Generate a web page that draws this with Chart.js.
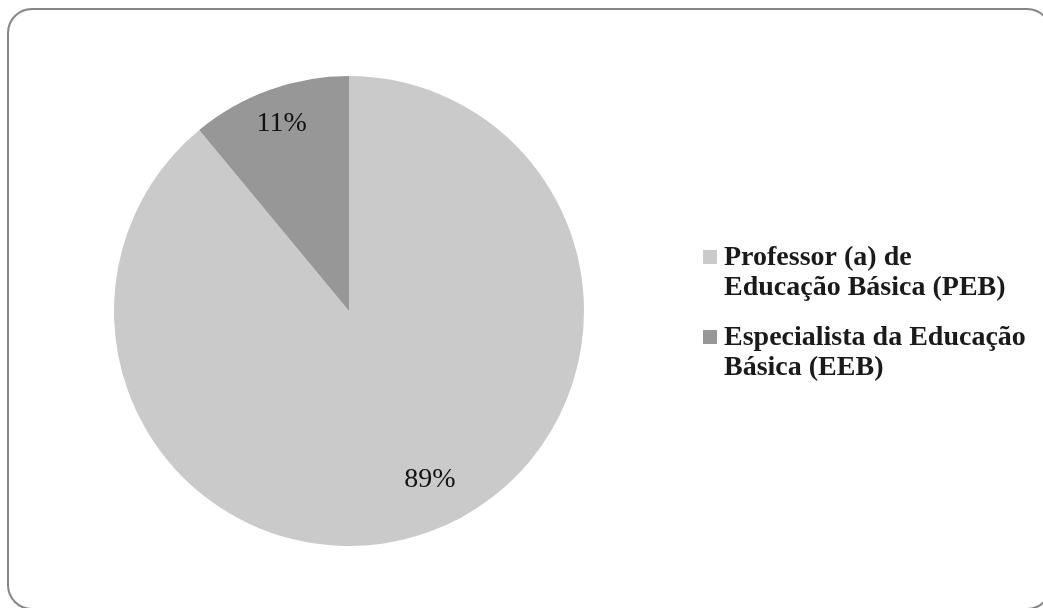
<!DOCTYPE html>
<html lang="pt">
<head>
<meta charset="utf-8">
<title>Cargo dos participantes</title>
<script src="https://cdn.jsdelivr.net/npm/chart.js@4.4.1/dist/chart.umd.min.js"></script>
<style>
  html, body { margin: 0; padding: 0; background: #ffffff; overflow: hidden; }
  #wrap { position: relative; width: 1043px; height: 608px; }
  #frame {
    position: absolute; left: 7px; top: 8px; width: 1045px; height: 602px;
    box-sizing: border-box; border: 2px solid #858585; border-radius: 25px;
    pointer-events: none;
  }
  canvas { position: absolute; left: 0; top: 0; }
</style>
</head>
<body>
<div id="wrap">
  <canvas id="chart" width="1043" height="608"></canvas>
  <div id="frame"></div>
</div>
<script>
// Categories (legend text split into its display lines) and shares in percent
const categories = [
  ['Professor (a) de', 'Educação Básica (PEB)'],
  ['Especialista da Educação', 'Básica (EEB)']
];
const shares = [89, 11];
const sliceColors = ['#cacaca', '#979797'];

// Percentage labels placed inside each slice, from the arc geometry
const sliceLabels = {
  id: 'sliceLabels',
  afterDatasetsDraw(chart, args, opts) {
    const ctx = chart.ctx;
    const meta = chart.getDatasetMeta(0);
    ctx.save();
    ctx.font = opts.font;
    ctx.fillStyle = opts.color;
    ctx.textAlign = 'center';
    ctx.textBaseline = 'middle';
    meta.data.forEach((arc, i) => {
      const p = arc.getProps(['x', 'y', 'startAngle', 'endAngle', 'outerRadius'], true);
      const place = opts.placement[i];
      const a = (p.startAngle + p.endAngle) / 2 + place.shift * Math.PI / 180;
      const r = p.outerRadius * place.r;
      ctx.fillText(chart.data.datasets[0].data[i] + '%', p.x + Math.cos(a) * r, p.y + Math.sin(a) * r);
    });
    ctx.restore();
  }
};

// Legend to the right of the pie: square swatch and wrapped bold text
const sideLegend = {
  id: 'sideLegend',
  afterDraw(chart, args, opts) {
    const ctx = chart.ctx;
    const ds = chart.data.datasets[0];
    ctx.save();
    ctx.font = opts.font;
    ctx.textBaseline = 'alphabetic';
    ctx.textAlign = 'left';
    let baseline = opts.top;
    chart.data.labels.forEach((lines, i) => {
      ctx.fillStyle = ds.backgroundColor[i];
      ctx.fillRect(opts.left, baseline - opts.box - 1, opts.box, opts.box);
      ctx.fillStyle = opts.color;
      lines.forEach((line, j) => {
        ctx.fillText(line, opts.left + opts.box + opts.gap, baseline + j * opts.lineHeight);
      });
      baseline += lines.length * opts.lineHeight + opts.itemGap;
    });
    ctx.restore();
  }
};

new Chart(document.getElementById('chart'), {
  type: 'pie',
  data: {
    labels: categories,
    datasets: [{
      data: shares,
      backgroundColor: sliceColors,
      borderWidth: 0,
      hoverOffset: 0
    }]
  },
  options: {
    responsive: false,
    animation: false,
    rotation: 0,
    layout: { padding: { left: 114, right: 459, top: 76, bottom: 62 } },
    plugins: {
      legend: { display: false },
      tooltip: { enabled: false },
      sliceLabels: {
        font: '28px "Liberation Serif", serif',
        color: '#111111',
        placement: [{ r: 0.797, shift: -5.8 }, { r: 0.847, shift: 0 }]
      },
      sideLegend: {
        font: 'bold 28px "Liberation Serif", serif',
        color: '#1a1a1a',
        left: 703, top: 265, box: 14, gap: 7,
        lineHeight: 30, itemGap: 20
      }
    }
  },
  plugins: [sliceLabels, sideLegend]
});
</script>
</body>
</html>
